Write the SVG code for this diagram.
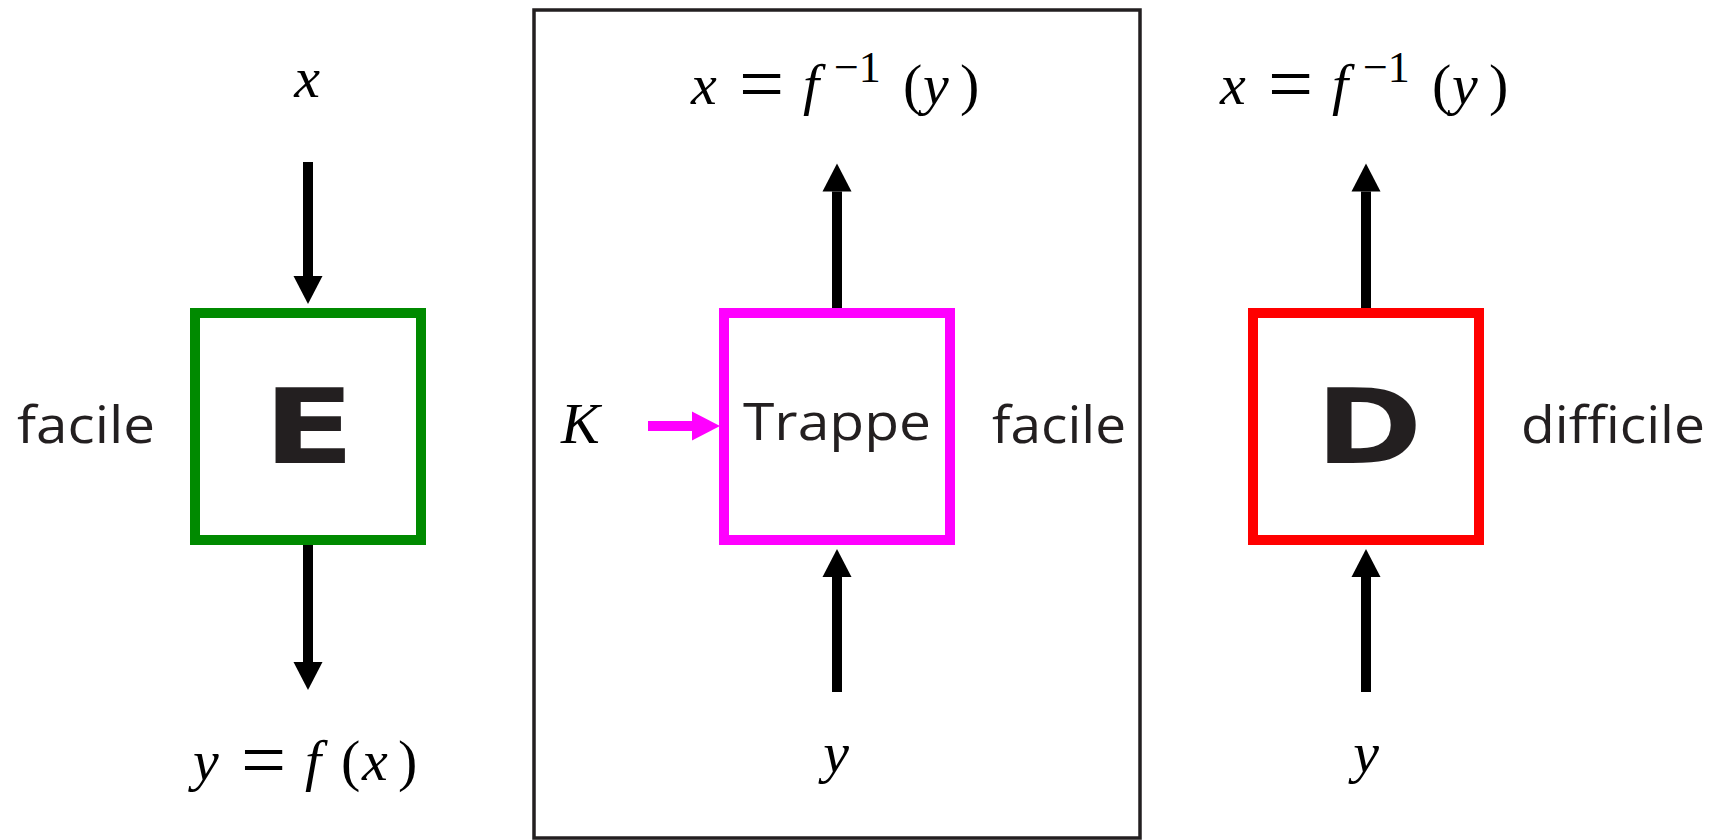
<svg xmlns="http://www.w3.org/2000/svg" width="1722" height="840" viewBox="0 0 1722 840">
<style>
.box{fill:none;stroke-width:10}
.sans{font-family:"Open Sans","DejaVu Sans",sans-serif;font-size:52px;fill:#231f20}
.big{font-family:"DejaVu Sans",sans-serif;font-weight:bold;font-size:103px;fill:#231f20}
.m{font-family:"Liberation Serif","DejaVu Serif",serif;font-size:58px;fill:#000}
.i{font-style:italic}
.eq{font-size:80px}
.sup{font-size:44px}
.c{stroke:#000;stroke-width:10;fill:none}
</style>
<defs>
<marker id="ah" markerUnits="userSpaceOnUse" markerWidth="30" markerHeight="32" refX="0" refY="15" orient="auto" viewBox="0 0 30 30" overflow="visible">
<path d="M0,0.5 L28,15 L0,29.5 z" fill="#000"/>
</marker>
<marker id="ahm" markerUnits="userSpaceOnUse" markerWidth="30" markerHeight="32" refX="0" refY="15" orient="auto" viewBox="0 0 30 30" overflow="visible">
<path d="M0,0.5 L28,15 L0,29.5 z" fill="#ff00ff"/>
</marker>
</defs>
<rect width="1722" height="840" fill="#fff"/>
<rect id="frame" x="534" y="10" width="606" height="828" fill="none" stroke="#231f20" stroke-width="3.5"/>

<g id="connectors">
<line class="c" x1="308" y1="162" x2="308" y2="276" marker-end="url(#ah)"/>
<line class="c" x1="308" y1="545" x2="308" y2="662" marker-end="url(#ah)"/>
<line class="c" x1="837" y1="308" x2="837" y2="191.5" marker-end="url(#ah)"/>
<line class="c" x1="837" y1="692" x2="837" y2="577" marker-end="url(#ah)"/>
<line class="c" x1="648" y1="426" x2="692" y2="426" style="stroke:#ff00ff" marker-end="url(#ahm)"/>
<line class="c" x1="1366" y1="308" x2="1366" y2="191.5" marker-end="url(#ah)"/>
<line class="c" x1="1366" y1="692" x2="1366" y2="577" marker-end="url(#ah)"/>
</g>

<g id="node-E">
<rect class="box" x="195" y="313" width="226" height="227" stroke="#008a00"/>
<text class="big" text-anchor="middle" transform="translate(309,463) scale(1.3,1)">E</text>
</g>
<g id="node-Trappe">
<rect class="box" x="724" y="313" width="226" height="227" stroke="#ff00ff"/>
<text class="sans" x="837" y="440" text-anchor="middle" textLength="188" lengthAdjust="spacingAndGlyphs">Trappe</text>
</g>
<g id="node-D">
<rect class="box" x="1253" y="313" width="226" height="227" stroke="#ff0000"/>
<text class="big" text-anchor="middle" transform="translate(1369,463) scale(1.25,1)">D</text>
</g>

<g id="labels">
<text class="sans" x="17" y="443" textLength="138" lengthAdjust="spacingAndGlyphs">facile</text>
<text class="sans" x="992" y="443" textLength="134" lengthAdjust="spacingAndGlyphs">facile</text>
<text class="sans" x="1521" y="443" textLength="184" lengthAdjust="spacingAndGlyphs">difficile</text>
<text class="m i" x="561" y="443">K</text>

<text class="m i" x="307" y="97" text-anchor="middle">x</text>

<text class="m" y="780"><tspan class="i" x="193">y</tspan><tspan class="eq" x="241" y="787">=</tspan><tspan class="i" x="305" y="780">f</tspan><tspan x="341">(</tspan><tspan class="i" x="362">x</tspan><tspan x="398">)</tspan></text>

<text class="m" y="104"><tspan class="i" x="691">x</tspan><tspan class="eq" x="739" y="111">=</tspan><tspan class="i" x="803" y="104">f</tspan><tspan class="sup" x="834" y="82">−1</tspan><tspan x="903" y="104">(</tspan><tspan class="i" x="923">y</tspan><tspan x="960">)</tspan></text>

<text class="m" y="104"><tspan class="i" x="1220">x</tspan><tspan class="eq" x="1268" y="111">=</tspan><tspan class="i" x="1332" y="104">f</tspan><tspan class="sup" x="1363" y="82">−1</tspan><tspan x="1432" y="104">(</tspan><tspan class="i" x="1452">y</tspan><tspan x="1489">)</tspan></text>

<text class="m i" x="836" y="772" text-anchor="middle">y</text>
<text class="m i" x="1366" y="772" text-anchor="middle">y</text>
</g>
</svg>
